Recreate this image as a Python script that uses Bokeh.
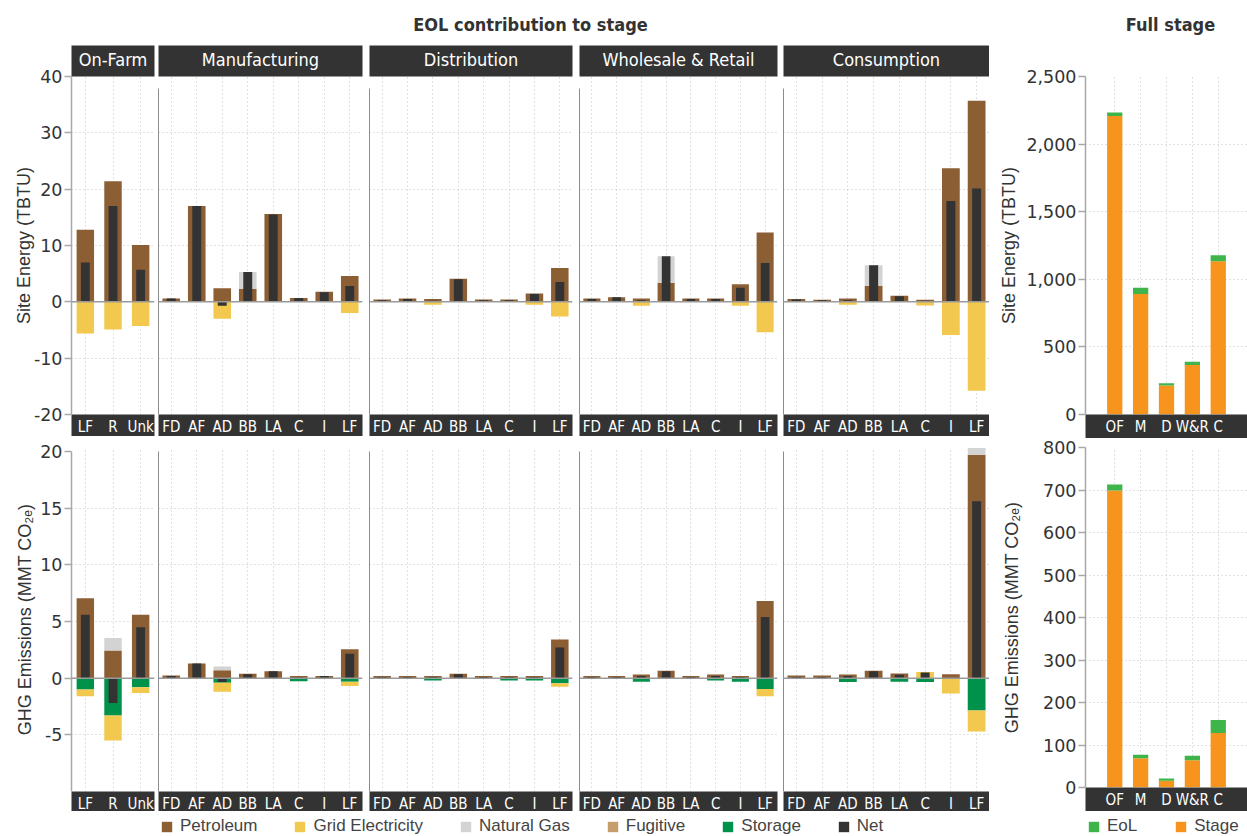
import numpy as np
from bokeh.plotting import figure
from bokeh.layouts import row, column
from bokeh.models import (ColumnDataSource, FactorRange, Range1d, FixedTicker, Span,
                          CategoricalAxis, NumeralTickFormatter, Legend, LegendItem, Label)
from bokeh.embed import file_html
from bokeh.resources import INLINE

# ---------------------------------------------------------------- data
stages = ["On-Farm", "Manufacturing", "Distribution", "Wholesale & Retail", "Consumption"]
farm_routes = ["LF", "R", "Unk"]
chain_routes = ["FD", "AF", "AD", "BB", "LA", "C", "I", "LF"]
full_stages = ["OF", "M", "D", "W&R", "C"]

# Site energy (TBTU) by end-of-life route, one list per stage
energy_petroleum = [
    [12.8, 21.4, 10.1],
    [0.6, 17.0, 2.4, 2.3, 15.6, 0.7, 1.8, 4.6],
    [0.4, 0.6, 0.5, 4.1, 0.4, 0.4, 1.5, 6.0],
    [0.6, 0.8, 0.6, 3.4, 0.6, 0.6, 3.1, 12.3],
    [0.5, 0.35, 0.6, 2.8, 1.1, 0.35, 23.7, 35.7],
]
energy_grid = [
    [-5.6, -4.9, -4.3],
    [0, 0, -3.0, 0, 0, 0, 0, -2.0],
    [0, 0, -0.5, 0, 0, 0, -0.5, -2.6],
    [0, 0, -0.7, 0, 0, 0, -0.7, -5.4],
    [0, 0, -0.5, 0, 0, -0.65, -5.9, -15.8],
]
energy_gas = [
    [0, 0, 0],
    [0, 0, 0, 3.0, 0, 0, 0, 0],
    [0, 0, 0, 0, 0, 0, 0, 0],
    [0, 0, 0, 4.7, 0, 0, 0, 0],
    [0, 0, 0, 3.7, 0, 0, 0, 0],
]
energy_fugitive = [
    [0, 0, 0],
    [0, 0, 0, 0, 0, 0, 0, 0],
    [0, 0, 0, 0, 0, 0, 0, 0],
    [0, 0, 0, 0, 0, 0, 0, 0],
    [0, 0, 0, 0, 0, 0, 0, 0],
]
energy_storage = [
    [0, 0, 0],
    [0, 0, 0, 0, 0, 0, 0, 0],
    [0, 0, 0, 0, 0, 0, 0, 0],
    [0, 0, 0, 0, 0, 0, 0, 0],
    [0, 0, 0, 0, 0, 0, 0, 0],
]
energy_net = [
    [7.0, 17.0, 5.7],
    [0.6, 17.0, -0.7, 5.3, 15.5, 0.7, 1.7, 2.8],
    [0.3, 0.5, 0.2, 4.0, 0.3, 0.3, 1.4, 3.5],
    [0.5, 0.8, 0.3, 8.1, 0.5, 0.5, 2.5, 6.9],
    [0.4, 0.3, 0.3, 6.5, 1.0, 0.2, 17.9, 20.1],
]

# GHG emissions (MMT CO2e) by end-of-life route, one list per stage
ghg_petroleum = [
    [7.05, 2.45, 5.6],
    [0.24, 1.3, 0.7, 0.38, 0.62, 0.2, 0.2, 2.55],
    [0.2, 0.2, 0.2, 0.38, 0.2, 0.2, 0.2, 3.4],
    [0.2, 0.18, 0.32, 0.65, 0.2, 0.32, 0.2, 6.8],
    [0.24, 0.24, 0.32, 0.65, 0.41, 0.0, 0.35, 19.7],
]
ghg_grid = [
    [-0.6, -2.2, -0.5],
    [0, 0, -0.8, 0, 0, 0, 0, -0.38],
    [0, 0, 0, 0, 0, 0, 0, -0.3],
    [0, 0, 0, 0, 0, 0, 0, -0.65],
    [0, 0, 0, 0, 0, 0.55, -1.35, -1.85],
]
ghg_gas = [
    [0, 1.1, 0],
    [0, 0, 0.33, 0, 0, 0, 0, 0],
    [0, 0, 0, 0, 0, 0, 0, 0],
    [0, 0, 0, 0, 0, 0, 0, 0],
    [0, 0, 0, 0, 0, 0, 0, 0.6],
]
ghg_fugitive = [
    [0, 0, 0],
    [0, 0, 0, 0, 0, 0, 0, 0],
    [0, 0, 0, 0, 0, 0, 0, 0],
    [0, 0, 0, 0, 0, 0, 0, 0],
    [0, 0, 0, 0, 0, 0, 0, 0],
]
ghg_storage = [
    [-1.0, -3.3, -0.8],
    [0, 0, -0.4, 0, 0, -0.27, 0, -0.32],
    [0, 0, -0.2, 0, 0, -0.2, -0.2, -0.45],
    [0, 0, -0.32, 0, 0, -0.2, -0.32, -0.95],
    [0, 0, -0.35, 0, -0.32, -0.35, 0, -2.85],
]
ghg_net = [
    [5.6, -2.2, 4.5],
    [0.2, 1.3, -0.35, 0.35, 0.6, 0.05, 0.2, 2.15],
    [0.1, 0.1, 0.1, 0.35, 0.1, 0.1, 0.1, 2.7],
    [0.1, 0.1, 0.2, 0.6, 0.1, 0.2, 0.1, 5.4],
    [0.1, 0.1, 0.2, 0.6, 0.3, 0.5, 0.0, 15.6],
]

# Whole-stage totals, split into the stage itself and its end-of-life share
full_energy_stage = [2207, 892, 214, 366, 1133]
full_energy_eol = [27, 45, 17, 25, 44]
full_ghg_stage = [699, 69, 16, 64, 128]
full_ghg_eol = [14, 8, 5, 11, 31]

# ---------------------------------------------------------------- styling
COLORS = {
    "Petroleum": "#8b5e34",
    "Grid Electricity": "#f2c84e",
    "Natural Gas": "#d3d3d3",
    "Fugitive": "#c89d6c",
    "Storage": "#00914a",
    "Net": "#333333",
    "EoL": "#3db54a",
    "Stage": "#f7941d",
}
LEGEND_ORDER = ["Petroleum", "Grid Electricity", "Natural Gas", "Fugitive", "Storage", "Net"]
# storage sits next to zero on the negative side, grid electricity beyond it
STACK_ORDER = ["Petroleum", "Storage", "Grid Electricity", "Natural Gas", "Fugitive"]

STRIP = "#333333"
GRID = "#c4c4c4"
AXIS = "#a8a8a8"
TEXT = "#333333"
TICK_FONT = "DejaVu Sans"
LABEL_FONT = "Liberation Sans"
STRIP_FONT = "'DejaVu Sans Condensed', 'Roboto', sans-serif"

PANEL_FRAME = [83, 204, 203, 198, 206]
PANEL_LEFT = [71, 2, 4, 4, 3]
PANEL_RIGHT = [2, 3, 3, 3, 0]
TOP_FRAME_H = 338
BOTTOM_FRAME_H = 344
HEADER_STRIP_H = 33

energy_parts = {
    "Petroleum": energy_petroleum, "Grid Electricity": energy_grid,
    "Natural Gas": energy_gas, "Fugitive": energy_fugitive, "Storage": energy_storage,
}
ghg_parts = {
    "Petroleum": ghg_petroleum, "Grid Electricity": ghg_grid,
    "Natural Gas": ghg_gas, "Fugitive": ghg_fugitive, "Storage": ghg_storage,
}


def stacked_segments(parts):
    """Signed component values -> (bottom, top) pairs; positives stack up, negatives down."""
    n = len(parts[0][1])
    pos = np.zeros(n)
    neg = np.zeros(n)
    segs = []
    for name, vals in parts:
        v = np.asarray(vals, dtype=float)
        base = np.where(v >= 0, pos, neg)
        end = base + v
        pos = np.where(v >= 0, end, pos)
        neg = np.where(v < 0, end, neg)
        segs.append((name, base, end))
    return segs


def strip_axis(ax, size):
    ax.background_fill_color = STRIP
    ax.axis_line_color = None
    ax.major_tick_line_color = None
    ax.minor_tick_line_color = None
    ax.major_tick_out = 0
    ax.major_tick_in = 0
    ax.major_label_text_color = "white"
    ax.major_label_text_font = STRIP_FONT
    ax.major_label_text_font_size = size


def value_axis(ax, ticks, label, label_standoff, formatter=None):
    ax.ticker = FixedTicker(ticks=ticks)
    if formatter is not None:
        ax.formatter = formatter
    # plain hyphen for negative tick values
    ax.major_label_overrides = {t: f"-{abs(t)}" for t in ticks if t < 0}
    ax.axis_line_color = AXIS
    ax.axis_line_width = 1.5
    ax.major_tick_line_color = AXIS
    ax.major_tick_line_width = 1.5
    ax.major_tick_out = 7
    ax.major_tick_in = 0
    ax.minor_tick_line_color = None
    ax.major_label_standoff = 2
    ax.major_label_text_font = TICK_FONT
    ax.major_label_text_font_size = "17.5px"
    ax.major_label_text_color = TEXT
    ax.axis_label = label
    ax.axis_label_standoff = label_standoff
    ax.axis_label_text_font = LABEL_FONT
    ax.axis_label_text_font_size = "18px"
    ax.axis_label_text_font_style = "normal"
    ax.axis_label_text_color = TEXT


def base_grid(p, yticks):
    p.outline_line_color = None
    p.xgrid.grid_line_color = GRID
    p.xgrid.grid_line_dash = "1 3"
    p.ygrid.ticker = FixedTicker(ticks=yticks)
    p.ygrid.grid_line_color = GRID
    p.ygrid.grid_line_dash = "1 3"


def eol_panel(k, top_row):
    routes = farm_routes if k == 0 else chain_routes
    p = figure(
        x_range=FactorRange(factors=routes, range_padding=0),
        y_range=Range1d(-20, 40) if top_row else Range1d(-10, 20.35),
        frame_width=PANEL_FRAME[k],
        frame_height=TOP_FRAME_H if top_row else BOTTOM_FRAME_H,
        min_border_left=PANEL_LEFT[k], min_border_right=PANEL_RIGHT[k],
        min_border_top=0 if top_row else 5, min_border_bottom=0,
        output_backend="svg", toolbar_location=None,
    )
    base_grid(p, [-10, 10, 20, 30] if top_row else [-5, 5, 10, 15])

    parts = energy_parts if top_row else ghg_parts
    segs = stacked_segments([(name, parts[name][k]) for name in STACK_ORDER])
    bar_w = 0.63 if k == 0 else 0.69
    for name, base, end in segs:
        src = ColumnDataSource(dict(route=routes, bottom=base, top=end))
        p.vbar(x="route", bottom="bottom", top="top", width=bar_w, source=src,
               fill_color=COLORS[name], line_color=None)
    net = energy_net[k] if top_row else ghg_net[k]
    p.vbar(x=routes, bottom=0, top=net, width=0.32 if k == 0 else 0.35,
           fill_color=COLORS["Net"], line_color=None)
    p.add_layout(Span(location=0, dimension="width", line_color="#9a9a9a", line_width=1.5))

    strip_axis(p.below[0], "15px")
    p.below[0].major_label_standoff = 3

    if top_row:
        p.extra_x_ranges = {"stage": FactorRange(factors=[stages[k]])}
        hdr = CategoricalAxis(x_range_name="stage")
        strip_axis(hdr, "18px")
        hdr.major_label_standoff = 7
        p.add_layout(hdr, "above")

    ya = p.left[0]
    if k == 0:
        if top_row:
            value_axis(ya, [-20, -10, 0, 10, 20, 30, 40], "Site Energy (TBTU)", -3)
        else:
            value_axis(ya, [-5, 0, 5, 10, 15, 20], "GHG Emissions (MMT CO\u2082\u2091)", 2)
            ya.bounds = (-10, 20)
    else:
        ya.ticker = FixedTicker(ticks=[])
        ya.axis_line_color = "#8c8c8c"
        ya.axis_line_width = 1
        ya.major_tick_out = 0
        ya.major_tick_in = 0
        ya.minor_tick_line_color = None
        ya.major_label_standoff = 0
        ya.bounds = (-20, 37.8) if top_row else (-10, 20)
    return p


def full_panel(top_row):
    stage_vals = full_energy_stage if top_row else full_ghg_stage
    eol_vals = full_energy_eol if top_row else full_ghg_eol
    p = figure(
        x_range=FactorRange(factors=full_stages, range_padding=0.63, range_padding_units="absolute"),
        y_range=Range1d(0, 2500) if top_row else Range1d(0, 800),
        frame_width=162,
        frame_height=TOP_FRAME_H if top_row else 340,
        min_border_left=96, min_border_right=0,
        min_border_top=HEADER_STRIP_H if top_row else 9, min_border_bottom=0,
        output_backend="svg", toolbar_location=None,
    )
    base_grid(p, [500, 1000, 1500, 2000, 2500] if top_row else [100, 200, 300, 400, 500, 600, 700, 800])
    src = ColumnDataSource(dict(stage=full_stages, Stage=stage_vals, EoL=eol_vals))
    p.vbar_stack(["Stage", "EoL"], x="stage", width=0.59, source=src,
                 fill_color=[COLORS["Stage"], COLORS["EoL"]], line_color=None)
    strip_axis(p.below[0], "15px")
    p.below[0].major_label_standoff = 3
    if top_row:
        value_axis(p.left[0], [0, 500, 1000, 1500, 2000, 2500], "Site Energy (TBTU)", 4,
                   NumeralTickFormatter(format="0,0"))
    else:
        value_axis(p.left[0], [0, 100, 200, 300, 400, 500, 600, 700, 800],
                   "GHG Emissions (MMT CO\u2082\u2091)", 18)
    return p


# ---------------------------------------------------------------- titles
EOL_LEFT = PANEL_LEFT[0]
EOL_RIGHT = sum(PANEL_LEFT) + sum(PANEL_FRAME) + sum(PANEL_RIGHT)
FULL_LEFT = EOL_RIGHT + 96
TOTAL_W = FULL_LEFT + 162

header = figure(width=TOTAL_W, height=43, x_range=Range1d(0, TOTAL_W), y_range=Range1d(0, 43),
                x_axis_location=None, y_axis_location=None, min_border=0,
                output_backend="svg", toolbar_location=None)
header.grid.visible = False
header.outline_line_color = None
for text, cx in [("EOL contribution to stage", (EOL_LEFT + EOL_RIGHT) / 2),
                 ("Full stage", (FULL_LEFT + TOTAL_W) / 2 + 4)]:
    header.add_layout(Label(x=cx, y=19, text=text, text_align="center", text_baseline="middle",
                            text_font=STRIP_FONT, text_font_size="18px", text_font_style="bold",
                            text_color=TEXT))

top_figs = [eol_panel(k, True) for k in range(5)] + [full_panel(True)]
bottom_figs = [eol_panel(k, False) for k in range(5)] + [full_panel(False)]

# ---------------------------------------------------------------- legends
legend_fig = figure(width=TOTAL_W, height=28, x_range=Range1d(0, 1), y_range=Range1d(0, 1),
                    x_axis_location=None, y_axis_location=None, min_border=0,
                    output_backend="svg", toolbar_location=None)
legend_fig.grid.visible = False
legend_fig.outline_line_color = None


def make_legend(names, loc, spacing):
    items = []
    for name in names:
        # swatch renderer: one bar kept outside the visible range
        r = legend_fig.vbar(x=[-5], top=[-5], width=1, fill_color=COLORS[name], line_color=None)
        items.append(LegendItem(label=name, renderers=[r]))
    return Legend(items=items, orientation="horizontal", location=loc, spacing=spacing,
                  label_standoff=7, glyph_width=13, glyph_height=13, padding=0, margin=0,
                  border_line_color=None, background_fill_alpha=0,
                  label_text_font=LABEL_FONT, label_text_font_size="17px", label_text_color="#444444")


legend_fig.add_layout(make_legend(LEGEND_ORDER, (160, 3), 36))
legend_fig.add_layout(make_legend(["EoL", "Stage"], (1087, 3), 37))

layout = column(header, row(*top_figs), row(*bottom_figs), legend_fig)

open("out.html", "w").write(file_html(layout, INLINE))
